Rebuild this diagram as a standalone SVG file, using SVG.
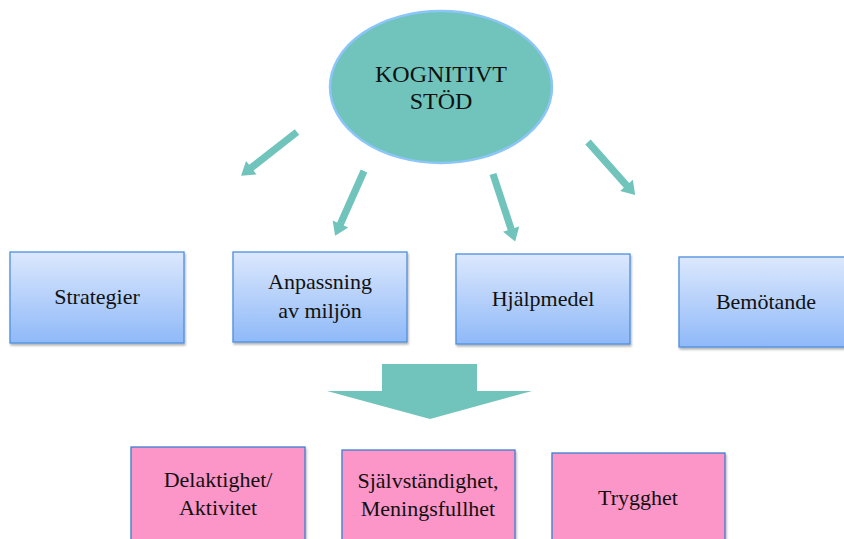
<svg xmlns="http://www.w3.org/2000/svg" xmlns:xlink="http://www.w3.org/1999/xlink" width="844" height="539" viewBox="0 0 844 539">
<defs>
<linearGradient id="blueGrad" x1="0" y1="0" x2="0" y2="1">
<stop offset="0" stop-color="#dce8fd"/>
<stop offset="1" stop-color="#8fb9f8"/>
</linearGradient>
<filter id="shadow" x="-10%" y="-10%" width="125%" height="130%">
<feDropShadow dx="1" dy="2" stdDeviation="1.2" flood-color="#000" flood-opacity="0.3"/>
</filter>
<path id="thinArrow" d="M0,-3.6 H58 V-8.5 L71,0 L58,8.5 V3.6 H0 Z"/>
</defs>
<style>
.t { fill: #111; text-anchor: middle; }
.blue { fill: url(#blueGrad); stroke: #4d8fdd; stroke-width: 1.3; filter: url(#shadow); }
.pink { fill: #fd96c8; stroke: #3b7fd0; stroke-width: 1.3; filter: url(#shadow); }
.lbl { font-size: 22px; }
.arrow { fill: #70c4bb; }
</style>
<rect width="844" height="539" fill="#fff"/>
<g font-family="'Liberation Serif', 'DejaVu Serif', serif">
<g id="kognitivt-stod">
<ellipse cx="441" cy="87" rx="111" ry="76" fill="#70c4bc" stroke="#8cc6f8" stroke-width="2.5"/>
<text class="t" x="441" y="82" font-size="24">KOGNITIVT</text>
<text class="t" x="441" y="109" font-size="24">STÖD</text>
</g>

<g id="connectors" class="arrow">
<use xlink:href="#thinArrow" transform="translate(297,132) rotate(142)"/>
<use xlink:href="#thinArrow" transform="translate(364,171) rotate(114)"/>
<use xlink:href="#thinArrow" transform="translate(493,174) rotate(71.8)"/>
<use xlink:href="#thinArrow" transform="translate(588,142) rotate(48.4)"/>
<polygon points="382,364 477,364 477,391 532,391 430,419 327,391 382,391"/>
</g>

<g id="strategier">
<rect class="blue" x="10" y="252" width="174" height="91"/>
<text class="t lbl" x="97" y="304">Strategier</text>
</g>
<g id="anpassning">
<rect class="blue" x="233" y="252" width="174" height="90"/>
<text class="t lbl" x="320" y="289">Anpassning</text>
<text class="t lbl" x="320" y="318">av miljön</text>
</g>
<g id="hjalpmedel">
<rect class="blue" x="456" y="254" width="174" height="90"/>
<text class="t lbl" x="543" y="306">Hjälpmedel</text>
</g>
<g id="bemotande">
<rect class="blue" x="679" y="257" width="176" height="90"/>
<text class="t lbl" x="766" y="309">Bemötande</text>
</g>

<g id="delaktighet">
<rect class="pink" x="131" y="447" width="174" height="97"/>
<text class="t lbl" x="218" y="487">Delaktighet/</text>
<text class="t lbl" x="218" y="515">Aktivitet</text>
</g>
<g id="sjalvstandighet">
<rect class="pink" x="342" y="450" width="173" height="97"/>
<text class="t lbl" x="428" y="488">Självständighet,</text>
<text class="t lbl" x="428" y="516">Meningsfullhet</text>
</g>
<g id="trygghet">
<rect class="pink" x="552" y="453" width="173" height="97"/>
<text class="t lbl" x="638" y="505">Trygghet</text>
</g>
</g>
</svg>
